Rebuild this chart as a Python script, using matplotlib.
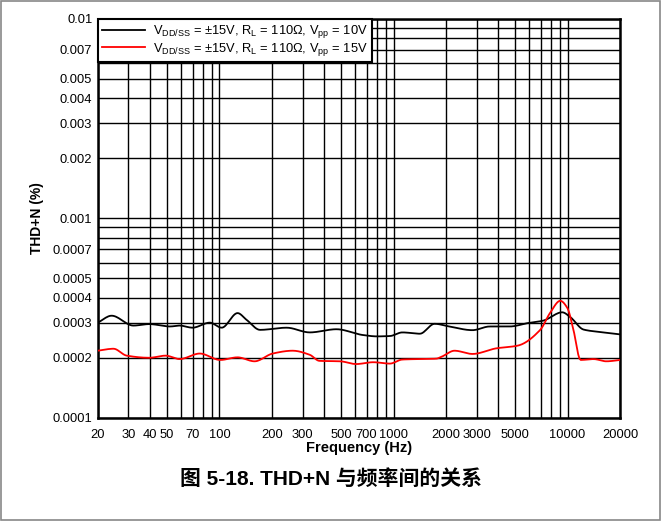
import numpy as np
import matplotlib
matplotlib.use("Agg")
import matplotlib.pyplot as plt
from matplotlib.ticker import FixedLocator, FixedFormatter, NullFormatter

plt.rcParams['font.family'] = ['Liberation Sans', 'Noto Sans CJK SC', 'DejaVu Sans']
plt.rcParams['mathtext.fontset'] = 'custom'
plt.rcParams['mathtext.rm'] = 'Liberation Sans'
plt.rcParams['mathtext.it'] = 'Liberation Sans:italic'
plt.rcParams['mathtext.bf'] = 'Liberation Sans:bold'

# Black series: VDD/SS = ±15V, RL = 110Ω, Vpp = 10V
freq_black = [20, 24, 32, 39.5, 52, 59, 70, 88, 103, 127, 143, 171, 243, 330, 470, 667,
              802, 952, 1124, 1417, 1721, 2090, 2841, 3566, 4660, 5850, 7240, 9310,
              10350, 12340, 15500, 20000]
thd_black = [0.000300, 0.000325, 0.000290, 0.000295, 0.000287, 0.000290, 0.000283, 0.000300,
             0.000283, 0.000335, 0.000310, 0.000276, 0.000283, 0.000268, 0.000278, 0.000260,
             0.000256, 0.000257, 0.000268, 0.000264, 0.000296, 0.000287, 0.000275, 0.000287,
             0.000287, 0.000298, 0.000307, 0.000338, 0.000320, 0.000277, 0.000269, 0.000262]

# Red series: VDD/SS = ±15V, RL = 110Ω, Vpp = 15V
freq_red = [20, 24.6, 29.3, 39.5, 49, 59, 77, 101, 127, 159, 202, 263, 330, 375, 494, 610,
            763, 952, 1124, 1760, 1900, 2240, 2840, 3890, 5160, 6960, 7920, 9070, 9970,
            10800, 11860, 14100, 16700, 20000]
thd_red = [0.000217, 0.000222, 0.000205, 0.000200, 0.000205, 0.000197, 0.000210, 0.000195,
           0.000201, 0.000192, 0.000210, 0.000217, 0.000207, 0.000193, 0.000192, 0.000186,
           0.000190, 0.000187, 0.000196, 0.000198, 0.000203, 0.000217, 0.000209, 0.000223,
           0.000230, 0.000276, 0.000335, 0.000386, 0.000355, 0.000276, 0.000195, 0.000197,
           0.000192, 0.000195]

x_ticks = [20, 30, 40, 50, 70, 100, 200, 300, 500, 700, 1000, 2000, 3000, 5000, 10000, 20000]
x_tick_labels = ['20', '30', '40', '50', '70', '100', '200', '300', '500', '700', '1000',
                 '2000', '3000', '5000', '10000', '20000']
y_ticks = [0.0001, 0.0002, 0.0003, 0.0004, 0.0005, 0.0007, 0.001, 0.002, 0.003, 0.004,
           0.005, 0.007, 0.01]
y_tick_labels = ['0.0001', '0.0002', '0.0003', '0.0004', '0.0005', '0.0007', '0.001',
                 '0.002', '0.003', '0.004', '0.005', '0.007', '0.01']

label_black = r'V$_{\mathrm{DD/SS}}$ = ±15V, R$_{\mathrm{L}}$ = 110Ω, V$_{\mathrm{pp}}$ = 10V'
label_red = r'V$_{\mathrm{DD/SS}}$ = ±15V, R$_{\mathrm{L}}$ = 110Ω, V$_{\mathrm{pp}}$ = 15V'


def smooth(xs, ys, n=400):
    lx = np.log10(xs)
    ly = np.log10(ys)
    t = np.linspace(lx[0], lx[-1], n)
    h = np.diff(lx)
    d = np.diff(ly) / h
    m = np.zeros_like(ly)
    m[0], m[-1] = d[0], d[-1]
    for i in range(1, len(ly) - 1):
        if d[i - 1] * d[i] <= 0:
            m[i] = 0
        else:
            w1 = 2 * h[i] + h[i - 1]
            w2 = h[i] + 2 * h[i - 1]
            m[i] = (w1 + w2) / (w1 / d[i - 1] + w2 / d[i])
    idx = np.clip(np.searchsorted(lx, t) - 1, 0, len(lx) - 2)
    hh = h[idx]
    s = (t - lx[idx]) / hh
    h00 = 2 * s**3 - 3 * s**2 + 1
    h10 = s**3 - 2 * s**2 + s
    h01 = -2 * s**3 + 3 * s**2
    h11 = s**3 - s**2
    yy = h00 * ly[idx] + h10 * hh * m[idx] + h01 * ly[idx + 1] + h11 * hh * m[idx + 1]
    return 10**t, 10**yy


fig = plt.figure(figsize=(6.61, 5.21), dpi=100)
ax = fig.add_axes([0.148, 0.198, 0.790, 0.766])

bx, by = smooth(freq_black, thd_black)
rx, ry = smooth(freq_red, thd_red)
ax.plot(bx, by, color='black', lw=1.3, label=label_black, zorder=3)
ax.plot(rx, ry, color='#ff0000', lw=1.3, label=label_red, zorder=3)

ax.set_xscale('log')
ax.set_yscale('log')
ax.set_xlim(20, 20000)
ax.set_ylim(0.0001, 0.01)

ax.xaxis.set_major_locator(FixedLocator(x_ticks))
ax.xaxis.set_major_formatter(FixedFormatter(x_tick_labels))
ax.xaxis.set_minor_locator(FixedLocator([k * 10**e for e in range(1, 5) for k in range(1, 10)]))
ax.xaxis.set_minor_formatter(NullFormatter())
ax.yaxis.set_major_locator(FixedLocator(y_ticks))
ax.yaxis.set_major_formatter(FixedFormatter(y_tick_labels))
ax.yaxis.set_minor_locator(FixedLocator([k * 10**e for e in range(-4, -1) for k in range(1, 10)]))
ax.yaxis.set_minor_formatter(NullFormatter())

ax.grid(True, which='both', color='black', lw=1.0)
ax.tick_params(which='both', length=0, labelsize=9.3)
ax.tick_params(axis='x', pad=8)
ax.tick_params(axis='y', pad=4)
for s in ax.spines.values():
    s.set_linewidth(1.8)

ax.set_xlabel('Frequency (Hz)', fontsize=10.5, fontweight='bold', labelpad=0)
ax.set_ylabel('THD+N (%)', fontsize=10, fontweight='bold', labelpad=6)

leg = ax.legend(loc='upper left', fontsize=9.3, frameon=True, fancybox=False,
                framealpha=1, edgecolor='black', borderaxespad=0, handlelength=3.3,
                borderpad=0.35, labelspacing=0.05, handletextpad=0.6,
                handleheight=0.6)
leg.get_frame().set_linewidth(1.5)

fig.text(0.5, 0.08, '图 5-18. THD+N 与频率间的关系', ha='center', va='center',
         fontsize=15, fontweight='bold',
         family=['Liberation Sans', 'Noto Sans CJK SC'])

border = plt.Rectangle((0.002, 0.002), 0.996, 0.996, transform=fig.transFigure,
                       fill=False, edgecolor='#888888', lw=1.2)
fig.patches.append(border)

fig.savefig('out.png', dpi=100)
